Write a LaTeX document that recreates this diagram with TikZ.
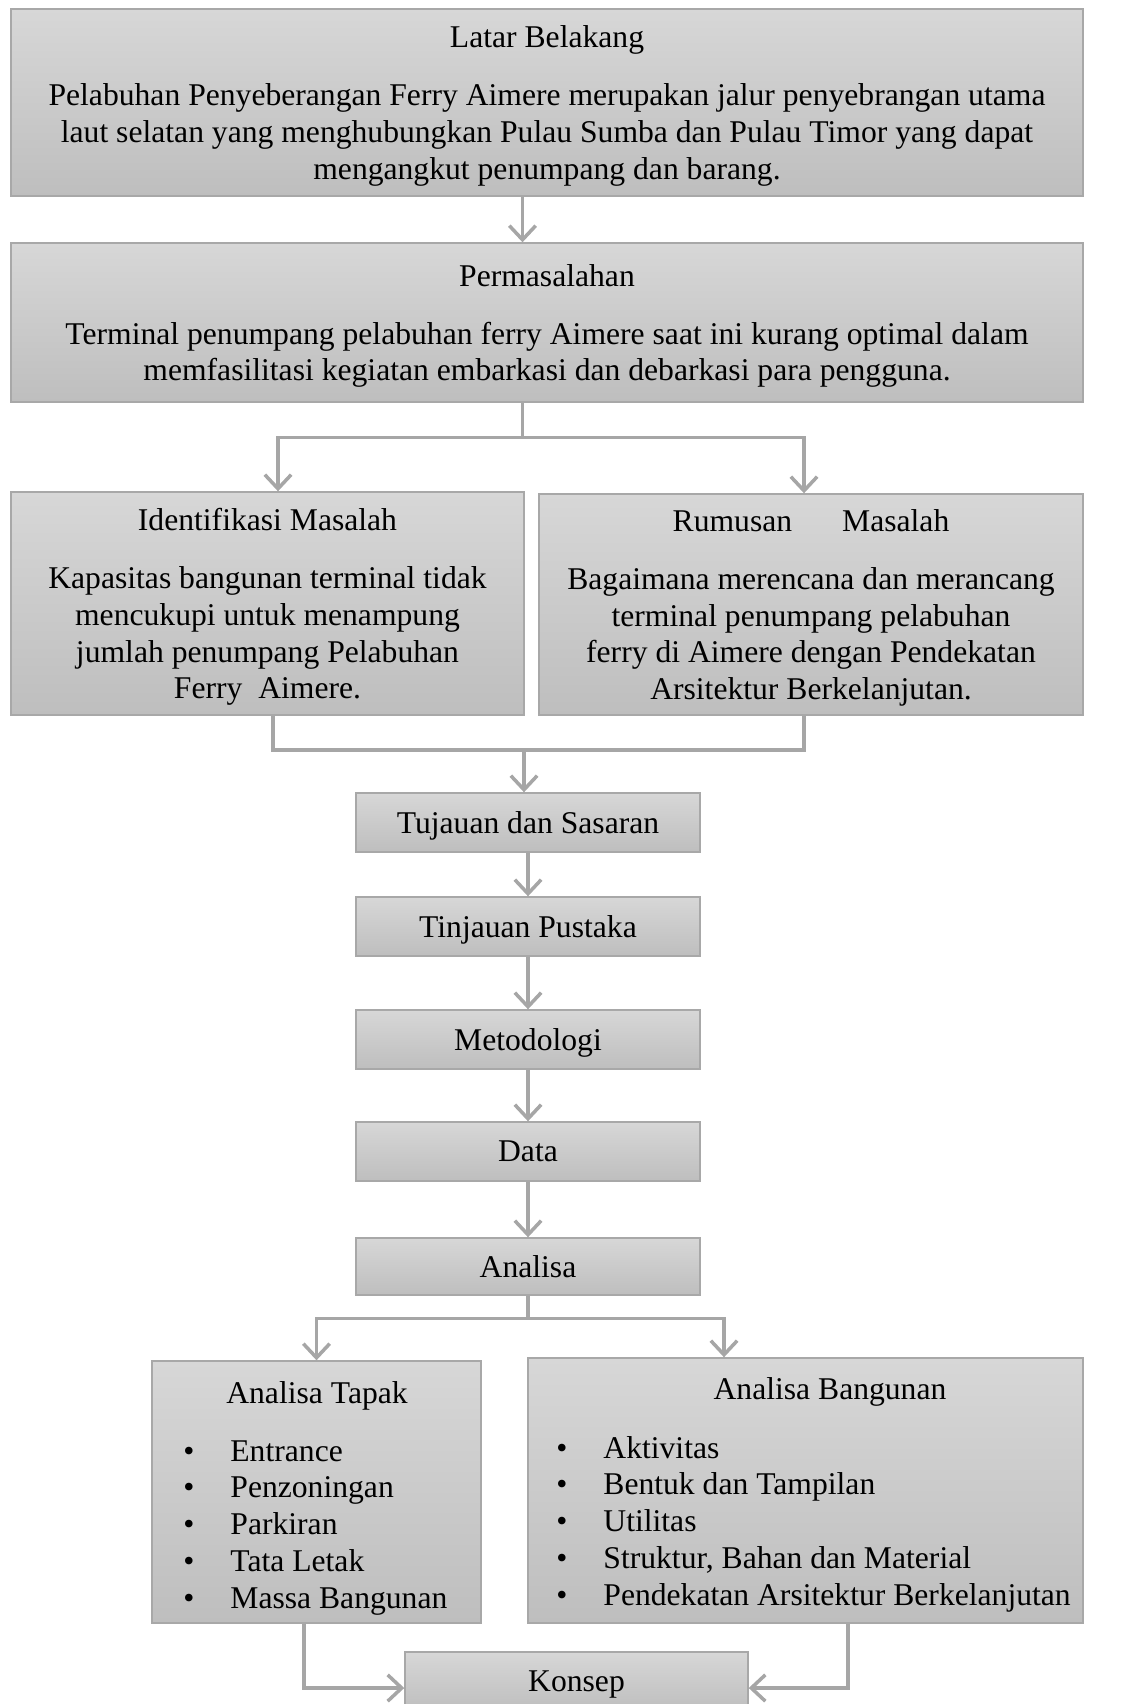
\documentclass[tikz,border=0pt]{standalone}
\usepackage{fontspec}
\setmainfont{Liberation Serif}
\usetikzlibrary{arrows.meta,positioning,calc}
\definecolor{boxline}{RGB}{168,168,168}
\definecolor{boxtop}{RGB}{215,215,215}
\definecolor{boxbot}{RGB}{190,190,190}
\definecolor{linegray}{RGB}{166,166,166}

\begin{document}
\begin{tikzpicture}[x=1cm,y=1cm,
    box/.style={draw=boxline,line width=0.8pt,top color=boxtop,bottom color=boxbot,
      align=center,inner sep=0pt,text depth=0pt,font=\fontsize{18}{21}\selectfont},
    txt/.style={inner sep=0pt,font=\fontsize{18}{21}\selectfont},
    conn/.style={draw=linegray,line width=2pt},
    arr/.style={conn,-{Straight Barb[length=8pt,width=15pt]}}]
    \useasboundingbox (0,0) rectangle (22.62,-34.08);
    % top part
    \node[box,minimum width=21.44cm,minimum height=3.74cm] (lb) at (10.94,-2.05)
      {Latar Belakang\\[12pt]
       Pelabuhan Penyeberangan Ferry Aimere merupakan jalur penyebrangan utama\\
       laut selatan yang menghubungkan Pulau Sumba dan Pulau Timor yang dapat\\
       mengangkut penumpang dan barang.};
    \node[box,minimum width=21.44cm,minimum height=3.18cm] (pm) at (10.94,-6.45)
      {Permasalahan\\[12pt]
       Terminal penumpang pelabuhan ferry Aimere saat ini kurang optimal dalam\\
       memfasilitasi kegiatan embarkasi dan debarkasi para pengguna.};
    \node[box,minimum width=10.26cm,minimum height=4.46cm] (idm) at (5.35,-12.07)
      {Identifikasi Masalah\\[12pt]
       Kapasitas bangunan terminal tidak\\
       mencukupi untuk menampung\\
       jumlah penumpang Pelabuhan\\
       Ferry~~Aimere.};
    \node[box,minimum width=10.88cm,minimum height=4.42cm] (rm) at (16.22,-12.09)
      {Rumusan\hspace{1cm}Masalah\\[12pt]
       Bagaimana merencana dan merancang\\
       terminal penumpang pelabuhan\\
       ferry di Aimere dengan Pendekatan\\
       Arsitektur Berkelanjutan.};
    % middle column
    \node[box,minimum width=6.88cm,minimum height=1.18cm] (tj) at (10.56,-16.45) {Tujauan dan Sasaran};
    \node[box,minimum width=6.88cm,minimum height=1.18cm] (tp) at (10.56,-18.53) {Tinjauan Pustaka};
    \node[box,minimum width=6.88cm,minimum height=1.18cm] (mt) at (10.56,-20.79) {Metodologi};
    \node[box,minimum width=6.88cm,minimum height=1.18cm] (dt) at (10.56,-23.03) {Data};
    \node[box,minimum width=6.88cm,minimum height=1.14cm] (an) at (10.56,-25.33) {Analisa};
    % analysis boxes
    \node[box,minimum width=6.58cm,minimum height=5.24cm] (at) at (6.33,-29.84) {};
    \node[txt,anchor=base] (attitle) at (6.34,-28.07) {Analisa Tapak};
    \node[txt,anchor=base west] (atlist) at (3.66,-29.22)
      {\begin{tabular}[t]{@{}l@{\hspace{0.72cm}}l@{}}
       \textbullet & Entrance\\
       \textbullet & Penzoningan\\
       \textbullet & Parkiran\\
       \textbullet & Tata Letak\\
       \textbullet & Massa Bangunan
       \end{tabular}};
    \node[box,minimum width=11.10cm,minimum height=5.30cm] (ab) at (16.11,-29.81) {};
    \node[txt,anchor=base] (abtitle) at (16.60,-27.99) {Analisa Bangunan};
    \node[txt,anchor=base west] (ablist) at (11.12,-29.16)
      {\begin{tabular}[t]{@{}l@{\hspace{0.72cm}}l@{}}
       \textbullet & Aktivitas\\
       \textbullet & Bentuk dan Tampilan\\
       \textbullet & Utilitas\\
       \textbullet & Struktur, Bahan dan Material\\
       \textbullet & Pendekatan Arsitektur Berkelanjutan
       \end{tabular}};
    \node[box,minimum width=6.86cm,minimum height=1.18cm] (ks) at (11.53,-33.63) {Konsep};
    % connectors
    \coordinate (spine) at (10.45,0);
    \draw[arr] (lb.south -| spine) -- (pm.north -| spine);
    \draw[conn] (pm.south -| spine) -- ++(0,-0.70) coordinate (fork1);
    \draw[arr] (fork1) -| ([xshift=0.21cm]idm.north);
    \draw[arr] (fork1) -| ([xshift=-0.14cm]rm.north);
    \coordinate (join1) at (10.48,-15.00);
    \draw[conn] ([xshift=0.11cm]idm.south) |- (join1) -| ([xshift=-0.14cm]rm.south);
    \draw[arr] (join1) -- (join1 |- tj.north);
    \draw[arr] (tj) -- (tp);
    \draw[arr] (tp) -- (mt);
    \draw[arr] (mt) -- (dt);
    \draw[arr] (dt) -- (an);
    \draw[conn] (an.south) -- ++(0,-0.46) coordinate (fork2);
    \draw[arr] (fork2) -| (at.north);
    \draw[arr] (fork2) -| ([xshift=-1.63cm]ab.north);
    \draw[arr] ([xshift=-0.25cm]at.south) |- ([yshift=-0.13cm]ks.west);
    \draw[arr] ([xshift=0.85cm]ab.south) |- ([yshift=-0.13cm]ks.east);
\end{tikzpicture}
\end{document}
